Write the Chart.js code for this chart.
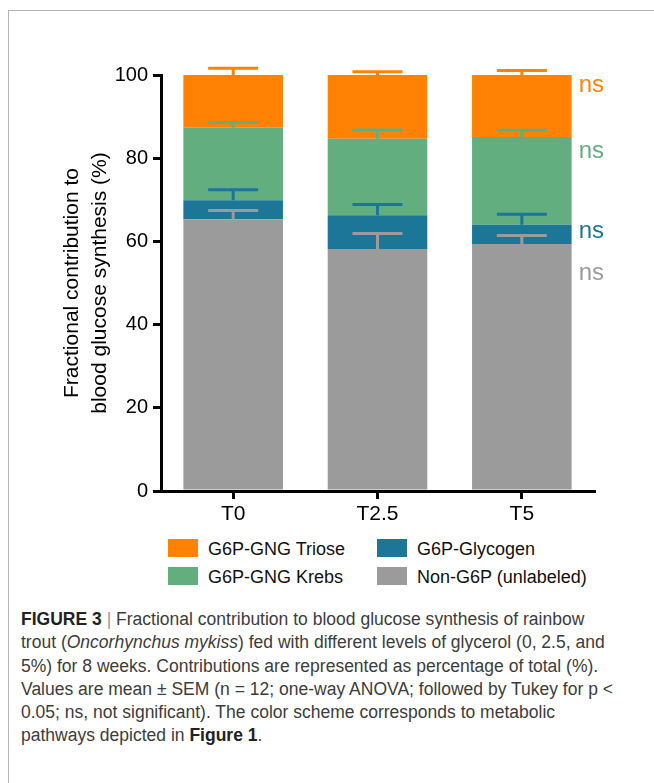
<!DOCTYPE html>
<html>
<head>
<meta charset="utf-8">
<script src="https://cdn.jsdelivr.net/npm/chart.js@4.4.0/dist/chart.umd.min.js"></script>
<style>
  body { margin: 0; background: #fff; font-family: "Liberation Sans", Arial, sans-serif; }
  #wrap { position: relative; width: 654px; height: 783px; overflow: hidden; }
  #frame { position: absolute; left: 8px; top: 10px; width: 700px; height: 800px;
           border-top: 1px solid #b5b5b5; border-left: 1px solid #b5b5b5; }
  #chart { position: absolute; left: 0; top: 0; }
  .leg { position: absolute; font-size: 18px; color: #111; line-height: 20px; white-space: nowrap; }
  .leg span.box { position: absolute; width: 30px; height: 18px; }
  #caption { position: absolute; left: 21px; top: 608px; font-size: 18px; line-height: 23.3px;
             color: #3c3c3c; white-space: nowrap; transform-origin: 0 0; }
  #caption b { color: #222; }
  #caption .bar { color: #999; }
</style>
</head>
<body>
<div id="wrap">
  <div id="frame"></div>
  <canvas id="chart" width="654" height="530"></canvas>
  <div id="legend"></div>
  <div id="caption">
    <div id="line1"><b>FIGURE 3</b> <span class="bar">|</span> Fractional contribution to blood glucose synthesis of rainbow</div>
    <div>trout (<i>Oncorhynchus mykiss</i>) fed with different levels of glycerol (0, 2.5, and</div>
    <div>5%) for 8 weeks. Contributions are represented as percentage of total (%).</div>
    <div>Values are mean ± SEM (n = 12; one-way ANOVA; followed by Tukey for p &lt;</div>
    <div>0.05; ns, not significant). The color scheme corresponds to metabolic</div>
    <div>pathways depicted in <b>Figure 1</b>.</div>
  </div>
</div>
<script>
// groups (glycerol level in the diet)
const grupos = ["T0", "T2.5", "T5"];

// mean contribution of each pathway (%), stacked from the bottom
const nonG6P   = [65.3, 58.2, 59.4];
const glycogen = [4.6, 8.1, 4.6];
const krebs    = [17.4, 18.4, 21.1];
const triose   = [12.7, 15.3, 14.9];

// SEM of each pathway
const semNonG6P   = [2.1, 3.7, 2.0];
const semGlycogen = [2.5, 2.6, 2.5];
const semKrebs    = [1.3, 2.1, 1.6];
const semTriose   = [1.6, 0.8, 1.1];

const yTicks = [0, 20, 40, 60, 80, 100];
const significancia = ["ns", "ns", "ns", "ns"];

const colores = {
  triose: "#ff8205",
  krebs: "#63ae7e",
  glycogen: "#1c7698",
  nonG6P: "#9b9b9b",
};

const datasets = [
  { label: "Non-G6P (unlabeled)", data: nonG6P, sem: semNonG6P, backgroundColor: colores.nonG6P },
  { label: "G6P-Glycogen", data: glycogen, sem: semGlycogen, backgroundColor: colores.glycogen },
  { label: "G6P-GNG Krebs", data: krebs, sem: semKrebs, backgroundColor: colores.krebs },
  { label: "G6P-GNG Triose", data: triose, sem: semTriose, backgroundColor: colores.triose },
];

// error bars drawn upward from the top of each segment
const barrasError = {
  id: "barrasError",
  afterDatasetsDraw(chart) {
    const ctx = chart.ctx;
    const y = chart.scales.y;
    const acumulado = grupos.map(() => 0);
    chart.data.datasets.forEach((ds, i) => {
      const meta = chart.getDatasetMeta(i);
      meta.data.forEach((el, j) => {
        acumulado[j] += ds.data[j];
        const yTop = y.getPixelForValue(acumulado[j]);
        const yErr = y.getPixelForValue(acumulado[j] + ds.sem[j]);
        ctx.save();
        ctx.strokeStyle = ds.backgroundColor;
        ctx.lineWidth = 3;
        ctx.beginPath();
        ctx.moveTo(el.x, yTop);
        ctx.lineTo(el.x, yErr);
        ctx.moveTo(el.x - 25, yErr);
        ctx.lineTo(el.x + 25, yErr);
        ctx.stroke();
        ctx.restore();
      });
    });
  },
};

// "ns" labels to the right of the last bar
const etiquetasNs = {
  id: "etiquetasNs",
  afterDatasetsDraw(chart) {
    const ctx = chart.ctx;
    const y = chart.scales.y;
    const meta = chart.getDatasetMeta(0);
    const last = meta.data[meta.data.length - 1];
    const x = last.x + last.width / 2 + 7;
    const alturas = [52.2, 62.3, 81.7, 97.6];
    ctx.save();
    ctx.font = "24px 'Liberation Sans', Arial, sans-serif";
    ctx.textBaseline = "middle";
    ctx.textAlign = "left";
    chart.data.datasets.forEach((ds, i) => {
      ctx.fillStyle = ds.backgroundColor;
      ctx.fillText(significancia[i], x, y.getPixelForValue(alturas[i]));
    });
    ctx.restore();
  },
};

Chart.defaults.font.family = "'Liberation Sans', Arial, sans-serif";
Chart.defaults.color = "#000";

new Chart(document.querySelector("#chart"), {
  type: "bar",
  data: { labels: grupos, datasets: datasets },
  options: {
    responsive: false,
    animation: false,
    layout: { padding: { top: 75, right: 60, left: 0, bottom: 0 } },
    datasets: { bar: { categoryPercentage: 1, barPercentage: 0.69 } },
    plugins: { legend: { display: false }, tooltip: { enabled: false } },
    scales: {
      x: {
        stacked: true,
        grid: { offset: false, drawOnChartArea: false, drawTicks: true, tickLength: 8, color: "#000", lineWidth: 3 },
        border: { display: true, color: "#000", width: 3 },
        ticks: { font: { size: 21 }, color: "#000", padding: 3 },
        afterFit: (s) => { s.height = 39; },
      },
      y: {
        stacked: true,
        min: 0,
        max: 100,
        afterBuildTicks: (s) => { s.ticks = yTicks.map((v) => ({ value: v })); },
        grid: { drawOnChartArea: false, drawTicks: true, tickLength: 8, color: "#000", lineWidth: 3 },
        border: { display: true, color: "#000", width: 3 },
        ticks: { font: { size: 20 }, color: "#000", padding: 5 },
        title: {
          display: true,
          text: ["Fractional contribution to", "blood glucose synthesis (%)"],
          font: { size: 21, lineHeight: 1.35 },
          color: "#000",
          padding: { top: 58, bottom: 0 },
        },
        afterFit: (s) => { s.width = 161; },
      },
    },
  },
  plugins: [barrasError, etiquetasNs],
});

// legend, two columns, built from the datasets
const ordenLeyenda = [3, 1, 2, 0];
const posLeyenda = [[168, 539], [377, 539], [168, 567], [377, 567]];
const legend = document.querySelector("#legend");
ordenLeyenda.forEach((idx, k) => {
  const ds = datasets[idx];
  const item = document.createElement("div");
  item.className = "leg";
  item.style.left = posLeyenda[k][0] + "px";
  item.style.top = posLeyenda[k][1] + "px";
  item.innerHTML = '<span class="box" style="left:0;top:0;background:' + ds.backgroundColor +
    '"></span><span style="position:absolute;left:40px;top:0">' + ds.label + "</span>";
  legend.appendChild(item);
});

// the caption font is condensed: squeeze the block so line 1 spans like the figure
const caption = document.querySelector("#caption");
const w1 = document.querySelector("#line1").getBoundingClientRect().width;
caption.style.transform = "scaleX(" + (592 / w1) + ")";
</script>
</body>
</html>
